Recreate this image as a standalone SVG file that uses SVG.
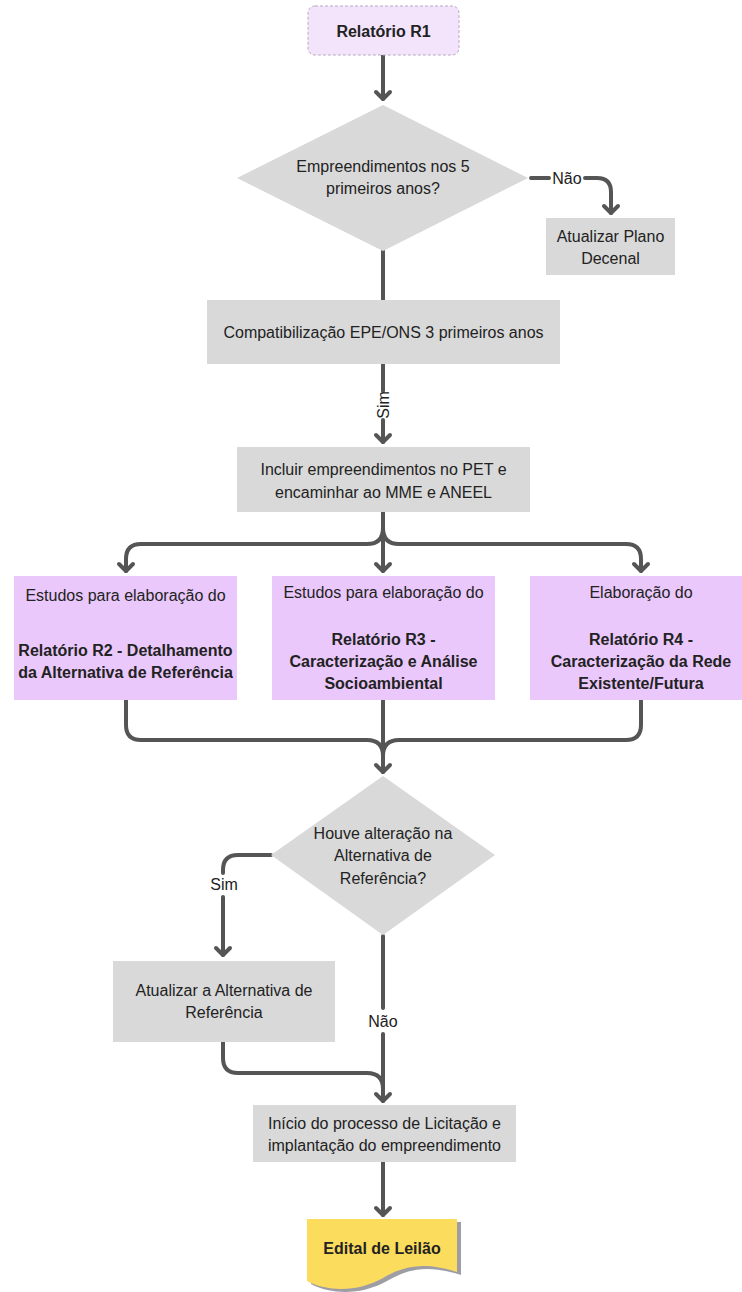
<svg xmlns="http://www.w3.org/2000/svg" width="742" height="1292" viewBox="0 0 742 1292">
  <style>
    .box { fill: #d9d9d9; }
    .purple { fill: #eac8fb; }
    .dec { fill: #d9d9d9; }
    .t { font-family: "Liberation Sans", Arial, sans-serif; font-size: 16px; fill: #222; text-anchor: middle; }
    .b { font-weight: bold; }
    .con { fill: none; stroke: #555; stroke-width: 4; stroke-linecap: round; stroke-linejoin: round; }
    .arr { marker-end: url(#arrow); }
  </style>
  <defs>
    <marker id="arrow" markerUnits="userSpaceOnUse" viewBox="-12 -12 24 24" refX="0" refY="0" markerWidth="24" markerHeight="24" orient="auto">
      <path d="M-7,-7 L0,0 L-7,7" fill="none" stroke="#555" stroke-width="4" stroke-linecap="round" stroke-linejoin="round"/>
    </marker>
  </defs>
  <rect width="742" height="1292" fill="#ffffff"/>

  <!-- connectors -->
  <g id="connectors">
    <path class="con arr" d="M383,55 V99"/>
    <path class="con" d="M531,178 H549"/>
    <path class="con arr" d="M585,178 H597 Q611,178 611,192 V213"/>
    <path class="con" d="M383,251 V300"/>
    <path class="con" d="M383,364 V391"/>
    <path class="con arr" d="M383,420 V442"/>
    <path class="con arr" d="M383,512 V571"/>
    <path class="con arr" d="M383,528 Q383,544 367,544 H141 Q126,544 126,559 V571"/>
    <path class="con arr" d="M383,528 Q383,544 399,544 H626 Q641,544 641,559 V571"/>
    <path class="con" d="M126,700 V725 Q126,740 141,740 H367 Q383,740 383,756"/>
    <path class="con" d="M641,700 V725 Q641,740 626,740 H399 Q383,740 383,756"/>
    <path class="con arr" d="M383,700 V772"/>
    <path class="con" d="M271,855 H238 Q223,855 223,870 V873"/>
    <path class="con arr" d="M223,897 V955"/>
    <path class="con" d="M383,936 V1008"/>
    <path class="con arr" d="M383,1034 V1101"/>
    <path class="con" d="M223,1042 V1058 Q223,1073 238,1073 H367 Q383,1073 383,1089"/>
    <path class="con arr" d="M383,1162 V1215"/>
    <text class="t" x="567" y="184">Não</text>
    <text class="t" transform="translate(389,405) rotate(-90)">Sim</text>
    <text class="t" x="224" y="890">Sim</text>
    <text class="t" x="383" y="1027">Não</text>
  </g>

  <g id="relatorio-r1">
    <rect x="308" y="6" width="151" height="49" rx="7" fill="#f3e4fc" stroke="#b8a8c0" stroke-width="1" stroke-dasharray="3 2"/>
    <text class="t b" x="383.5" y="37">Relatório R1</text>
  </g>

  <g id="decisao-empreendimentos">
    <polygon class="dec" points="383,105 528,178 383,251 237,178"/>
    <text class="t" x="383" y="172">Empreendimentos nos 5</text>
    <text class="t" x="383" y="194">primeiros anos?</text>
  </g>

  <g id="atualizar-plano">
    <rect class="box" x="546" y="218" width="129" height="57"/>
    <text class="t" x="610.5" y="242">Atualizar Plano</text>
    <text class="t" x="610.5" y="264">Decenal</text>
  </g>

  <g id="compatibilizacao">
    <rect class="box" x="207" y="300" width="353" height="64"/>
    <text class="t" x="383.5" y="338">Compatibilização EPE/ONS 3 primeiros anos</text>
  </g>

  <g id="incluir-pet">
    <rect class="box" x="237" y="447" width="293" height="65"/>
    <text class="t" x="383.5" y="475">Incluir empreendimentos no PET e</text>
    <text class="t" x="383.5" y="498">encaminhar ao MME e ANEEL</text>
  </g>

  <g id="relatorio-r2">
    <rect class="purple" x="14" y="576" width="223" height="124"/>
    <text class="t" x="125.5" y="601">Estudos para elaboração do</text>
    <text class="t b" x="125.5" y="656">Relatório R2 - Detalhamento</text>
    <text class="t b" x="125.5" y="678">da Alternativa de Referência</text>
  </g>

  <g id="relatorio-r3">
    <rect class="purple" x="272" y="576" width="223" height="124"/>
    <text class="t" x="383.5" y="598">Estudos para elaboração do</text>
    <text class="t b" x="383.5" y="645">Relatório R3 -</text>
    <text class="t b" x="383.5" y="667">Caracterização e Análise</text>
    <text class="t b" x="383.5" y="689">Socioambiental</text>
  </g>

  <g id="relatorio-r4">
    <rect class="purple" x="530" y="576" width="212" height="124"/>
    <text class="t" x="641" y="598">Elaboração do</text>
    <text class="t b" x="641" y="645">Relatório R4 -</text>
    <text class="t b" x="641" y="667">Caracterização da Rede</text>
    <text class="t b" x="641" y="689">Existente/Futura</text>
  </g>

  <g id="decisao-alteracao">
    <polygon class="dec" points="383,776 495,855 383,935 271,855"/>
    <text class="t" x="383" y="839">Houve alteração na</text>
    <text class="t" x="383" y="861">Alternativa de</text>
    <text class="t" x="383" y="884">Referência?</text>
  </g>

  <g id="atualizar-alternativa">
    <rect class="box" x="113" y="961" width="222" height="81"/>
    <text class="t" x="224" y="996">Atualizar a Alternativa de</text>
    <text class="t" x="224" y="1018">Referência</text>
  </g>

  <g id="licitacao">
    <rect class="box" x="253" y="1105" width="263" height="57"/>
    <text class="t" x="384.5" y="1129">Início do processo de Licitação e</text>
    <text class="t" x="384.5" y="1151">implantação do empreendimento</text>
  </g>

  <g id="edital">
    <path d="M311,1222 H461 V1275 C429,1265 409,1268 387,1281 C364,1294 334,1296 311,1284 Z" fill="#9d9da6"/>
    <path d="M307,1219 H457 V1272 C425,1262 405,1265 383,1278 C360,1291 330,1293 307,1281 Z" fill="#fcdc5c"/>
    <text class="t b" x="382" y="1254">Edital de Leilão</text>
  </g>
</svg>
